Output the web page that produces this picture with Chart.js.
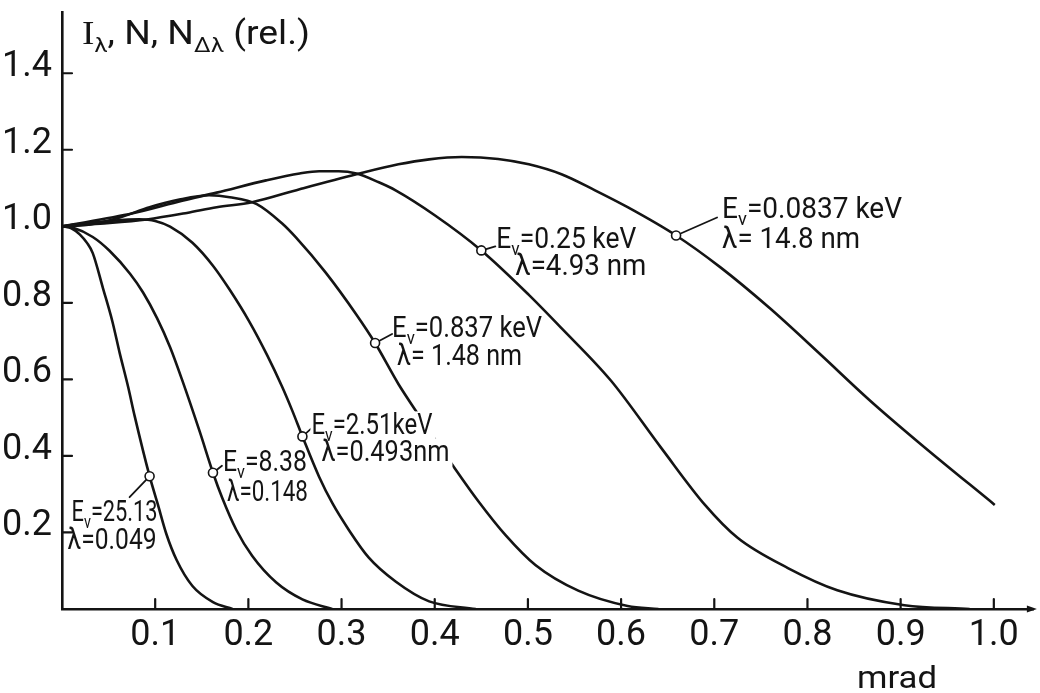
<!DOCTYPE html>
<html>
<head>
<meta charset="utf-8">
<script src="https://cdn.jsdelivr.net/npm/chart.js@4.4.1/dist/chart.umd.min.js"></script>
<style>
  html, body { margin: 0; padding: 0; background: #fff; }
  #chart { display: block; }
</style>
</head>
<body>
<canvas id="chart" width="1040" height="693"></canvas>
<script>
// angle in mrad, intensity relative to the value at 0
const xTicks = [0.1, 0.2, 0.3, 0.4, 0.5, 0.6, 0.7, 0.8, 0.9, 1.0];
const yTicks = [0.2, 0.4, 0.6, 0.8, 1.0, 1.2, 1.4];

// E = 25.13 keV
const x2513 = [0, 0.010, 0.019, 0.027, 0.033, 0.044, 0.054, 0.062, 0.071, 0.078, 0.094, 0.103, 0.112, 0.123, 0.140, 0.162, 0.183];
const y2513 = [1.0, 0.995, 0.979, 0.956, 0.930, 0.838, 0.752, 0.668, 0.580, 0.504, 0.347, 0.272, 0.196, 0.128, 0.060, 0.018, 0.0];
// E = 8.38 keV
const x838 = [0, 0.012, 0.033, 0.051, 0.073, 0.087, 0.102, 0.116, 0.129, 0.148, 0.162, 0.172, 0.187, 0.204, 0.230, 0.258, 0.290];
const y838 = [1.0, 0.996, 0.972, 0.936, 0.876, 0.827, 0.760, 0.684, 0.598, 0.462, 0.356, 0.290, 0.207, 0.139, 0.069, 0.025, 0.0];
// E = 2.51 keV
const x251 = [0, 0.025, 0.051, 0.083, 0.100, 0.116, 0.140, 0.162, 0.180, 0.201, 0.220, 0.236, 0.247, 0.258, 0.276, 0.290, 0.308, 0.329, 0.358, 0.394, 0.444];
const y251 = [1.0, 1.008, 1.014, 1.018, 1.014, 0.999, 0.957, 0.897, 0.834, 0.751, 0.664, 0.582, 0.519, 0.451, 0.345, 0.277, 0.206, 0.135, 0.072, 0.020, 0.0];
// E = 0.837 keV
const x0837 = [0, 0.030, 0.062, 0.094, 0.126, 0.158, 0.180, 0.209, 0.236, 0.251, 0.283, 0.316, 0.336, 0.361, 0.380, 0.422, 0.447, 0.476, 0.508, 0.554, 0.607, 0.640];
const y0837 = [1.0, 1.005, 1.023, 1.050, 1.070, 1.081, 1.076, 1.058, 1.008, 0.971, 0.879, 0.769, 0.695, 0.588, 0.517, 0.366, 0.281, 0.193, 0.115, 0.048, 0.008, 0.0];
// E = 0.25 keV
const x025 = [0, 0.076, 0.129, 0.166, 0.219, 0.255, 0.276, 0.297, 0.316, 0.340, 0.358, 0.400, 0.450, 0.501, 0.536, 0.589, 0.643, 0.690, 0.725, 0.779, 0.832, 0.904, 0.974];
const y025 = [1.0, 1.034, 1.067, 1.088, 1.120, 1.138, 1.144, 1.144, 1.138, 1.115, 1.094, 1.029, 0.937, 0.821, 0.734, 0.597, 0.421, 0.272, 0.186, 0.107, 0.049, 0.010, 0.0];
// E = 0.0837 keV
const x00837 = [0, 0.041, 0.091, 0.134, 0.166, 0.204, 0.255, 0.316, 0.361, 0.394, 0.429, 0.468, 0.501, 0.536, 0.572, 0.607, 0.659, 0.707, 0.760, 0.814, 0.867, 0.921, 1.001];
const y00837 = [1.0, 1.007, 1.018, 1.035, 1.050, 1.063, 1.097, 1.136, 1.162, 1.175, 1.181, 1.176, 1.162, 1.136, 1.094, 1.050, 0.976, 0.892, 0.785, 0.665, 0.545, 0.432, 0.272];

// small circles where the labels point
const markerX = [0.094, 0.162, 0.258, 0.336, 0.450, 0.659];
const markerY = [0.347, 0.356, 0.451, 0.695, 0.937, 0.976];
const energyLabels = ['25.13', '8.38', '2.51keV', '0.837 keV', '0.25 keV', '0.0837 keV'];
const lambdaLabels = ['0.049', '0.148', '0.493nm', ' 1.48 nm', '4.93 nm', ' 14.8 nm'];

// label placement, pixels from the marker: leader end, line 1 and 2 [dx, dy, width]
const labelLayout = [
  { lead: [-20, 21], l1: [-78, 45, 86], l2: [-82, 73, 89] },
  { lead: [9, -7], l1: [10, -2, 84], l2: [14, 28, 81] },
  { lead: [9, -8], l1: [9, -2, 121], l2: [19, 25, 128], mask: true },
  { lead: [17, -9], l1: [17, -6, 150], l2: [22, 22, 125] },
  { lead: [14, -4], l1: [15, -2, 140], l2: [34, 25, 131] },
  { lead: [41, -18], l1: [46, -17, 180], l2: [46, 13, 138] }
];

const ink = '#141414';
const sans = "Roboto, 'Liberation Sans', Arial, sans-serif";
const serif = "'Liberation Serif', 'DejaVu Serif', serif";

const toPoints = (xs, ys) => xs.map((v, i) => ({ x: v, y: ys[i] }));
const curves = [[x2513, y2513], [x838, y838], [x251, y251], [x0837, y0837], [x025, y025], [x00837, y00837]];

// text with subscripts, squeezed to a given width
function drawRich(ctx, parts, x, y, size, width) {
  const fontFor = p => (p.sub ? Math.round(size * 0.64) : size) + 'px ' + (p.serif ? serif : sans);
  let natural = 0;
  parts.forEach(p => { ctx.font = fontFor(p); p.w = ctx.measureText(p.t).width; natural += p.w; });
  const sx = width ? width / natural : 1;
  ctx.save();
  ctx.translate(x, y);
  ctx.scale(sx, 1);
  ctx.textAlign = 'left';
  ctx.textBaseline = 'alphabetic';
  let cx = 0;
  parts.forEach(p => {
    ctx.font = fontFor(p);
    ctx.fillText(p.t, cx, p.sub ? size * 0.24 : 0);
    cx += p.w;
  });
  ctx.restore();
}

const decorations = {
  id: 'decorations',
  afterDatasetsDraw(chart) {
    const { ctx, chartArea: area, scales: { x, y } } = chart;
    ctx.save();
    ctx.strokeStyle = ink;
    ctx.fillStyle = ink;
    ctx.lineCap = 'round';

    // tick marks point inwards
    ctx.lineWidth = 2.2;
    ctx.beginPath();
    y.ticks.forEach(t => {
      const py = y.getPixelForValue(t.value);
      ctx.moveTo(area.left, py);
      ctx.lineTo(area.left + 10, py);
    });
    x.ticks.forEach(t => {
      const px = x.getPixelForValue(t.value);
      ctx.moveTo(px, area.bottom);
      ctx.lineTo(px, area.bottom - 10);
    });
    ctx.stroke();

    // arrow head at the end of the angle axis
    ctx.beginPath();
    ctx.moveTo(area.right - 7, area.bottom - 3.5);
    ctx.lineTo(area.right + 3, area.bottom);
    ctx.lineTo(area.right - 7, area.bottom + 3.5);
    ctx.closePath();
    ctx.fill();

    // leaders and curve labels
    markerX.forEach((mx, i) => {
      const px = x.getPixelForValue(mx);
      const py = y.getPixelForValue(markerY[i]);
      const L = labelLayout[i];
      const d = Math.hypot(L.lead[0], L.lead[1]);
      ctx.lineWidth = 1.8;
      ctx.beginPath();
      ctx.moveTo(px + L.lead[0] / d * 5, py + L.lead[1] / d * 5);
      ctx.lineTo(px + L.lead[0], py + L.lead[1]);
      ctx.stroke();

      if (L.mask) {
        ctx.save();
        ctx.fillStyle = '#fff';
        [L.l1, L.l2].forEach(l => ctx.fillRect(px + l[0] - 1, py + l[1] - 23, l[2] + 4, 30));
        ctx.restore();
      }
      const line1 = [{ t: 'E' }, { t: 'ν', sub: true }, { t: '=' + energyLabels[i] }];
      const line2 = [{ t: 'λ=' + lambdaLabels[i] }];
      drawRich(ctx, line1, px + L.l1[0], py + L.l1[1], 29, L.l1[2]);
      drawRich(ctx, line2, px + L.l2[0], py + L.l2[1], 29, L.l2[2]);
    });

    // axis titles
    drawRich(ctx, [{ t: 'I', serif: true }, { t: 'λ', sub: true }, { t: ', N, N' }, { t: 'Δλ', sub: true }, { t: ' (rel.)' }], 82, 44, 33, 228);
    drawRich(ctx, [{ t: 'mrad' }], 857, 688, 31, 80);
    ctx.restore();
  }
};

const datasets = [{
  data: toPoints(markerX, markerY),
  showLine: false,
  pointRadius: 4.5,
  pointBorderWidth: 1.6,
  pointBackgroundColor: '#fff',
  pointBorderColor: ink,
  order: -1
}].concat(curves.map(c => ({
  data: toPoints(c[0], c[1]),
  showLine: true,
  borderColor: ink,
  borderWidth: 2.6,
  pointRadius: 0,
  fill: false,
  cubicInterpolationMode: 'monotone'
})));

const tickFont = { family: sans, size: 36 };

new Chart(document.getElementById('chart'), {
  type: 'scatter',
  data: { datasets },
  options: {
    responsive: false,
    animation: false,
    layout: { padding: { top: 12, right: 3, left: 0, bottom: 0 } },
    plugins: { legend: { display: false }, tooltip: { enabled: false } },
    scales: {
      x: {
        type: 'linear',
        min: 0,
        max: 1.043,
        afterBuildTicks: s => { s.ticks = xTicks.map(v => ({ value: v })); },
        afterFit: s => { s.height = 84; s.paddingLeft = 0; s.paddingRight = 0; },
        ticks: { callback: v => v.toFixed(1), color: ink, padding: 5, maxRotation: 0, font: tickFont },
        grid: { drawOnChartArea: false, drawTicks: false, color: 'transparent' },
        border: { display: true, color: ink, width: 2.6 }
      },
      y: {
        type: 'linear',
        min: 0,
        max: 1.56,
        afterBuildTicks: s => { s.ticks = yTicks.map(v => ({ value: v })); },
        afterFit: s => { s.width = 62; s.paddingTop = 0; s.paddingBottom = 0; },
        ticks: { callback: v => v.toFixed(1), color: ink, padding: 10, labelOffset: -6, font: tickFont },
        grid: { drawOnChartArea: false, drawTicks: false, color: 'transparent' },
        border: { display: true, color: ink, width: 2.6 }
      }
    }
  },
  plugins: [decorations]
});
</script>
</body>
</html>
